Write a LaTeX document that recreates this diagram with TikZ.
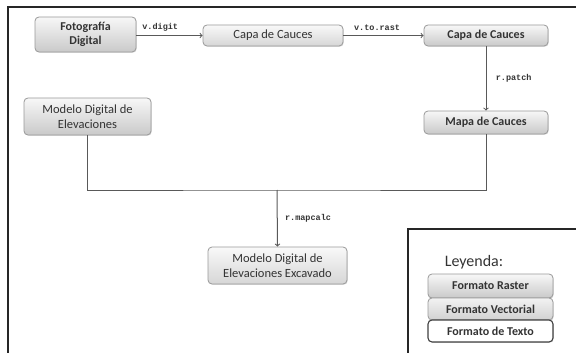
\documentclass[tikz,border=0pt]{standalone}
\usepackage{fontspec}
\setmainfont{Carlito}
\setmonofont{Liberation Mono}
\usetikzlibrary{arrows,shadows}

\tikzset{
    caja/.style={rounded corners=4pt, draw=gray!80, line width=0.8pt, align=center, text=black!80,
        font=\fontsize{12.5}{15}\selectfont, inner sep=1pt,
        drop shadow={opacity=0.25, shadow xshift=0.8pt, shadow yshift=-0.8pt}},
    raster/.style={caja, top color=gray!6, bottom color=gray!42},
    vectorial/.style={caja, top color=gray!5, bottom color=gray!32},
    texto/.style={caja, fill=white, draw=black!75, line width=1.1pt, drop shadow={opacity=0}},
    negrita/.style={font=\bfseries\fontsize{12}{14.5}\selectfont},
    etiq/.style={font=\ttfamily\bfseries\fontsize{8.5}{9}\selectfont, text=black!80},
    flecha/.style={->, >=to, draw=black!65, line width=1pt}
}

\begin{document}
\begin{tikzpicture}[x=1pt, y=-1pt]
        \useasboundingbox (0,0) rectangle (576,353);
        \clip (0,0) rectangle (576,353);
        % marco
        \draw[black!85, line width=1.2pt] (8,7) rectangle (620,400);
        \draw[black!85, line width=1.2pt] (408,229) rectangle (620,400);

        \node[raster, negrita, minimum width=101pt, minimum height=35pt] (foto) at (85.5,34.5) {Fotografía\\Digital};
        \node[vectorial, minimum width=140pt, minimum height=21pt] (capa1) at (273,35.5) {Capa de Cauces};
        \node[raster, negrita, minimum width=124pt, minimum height=21pt] (capa2) at (486,35.5) {Capa de Cauces};
        \node[raster, minimum width=127pt, minimum height=37pt] (mde) at (87.5,116.5) {Modelo Digital de\\Elevaciones};
        \node[raster, negrita, minimum width=124pt, minimum height=23pt] (mapa) at (486,122.5) {Mapa de Cauces};
        \node[vectorial, minimum width=139pt, minimum height=37pt] (exc) at (277.5,265.5) {Modelo Digital de\\Elevaciones Excavado};
        \coordinate (junta) at (277,190);

        \draw[flecha] (foto.east |- capa1) -- (capa1.west) node[etiq, pos=0.36, above=0pt] {v.digit};
        \draw[flecha] (capa1.east) -- (capa2.west) node[etiq, pos=0.42, above=1pt] {v.to.rast};
        \draw[flecha] (capa2.south) -- (mapa.north) node[etiq, midway, right=6pt] {r.patch};
        \draw[black!65, line width=1pt] (mde.south) |- (junta) -| (mapa.south);
        \draw[flecha] (junta) -- (exc.north) node[etiq, midway, right=4pt] {r.mapcalc};

        % leyenda
        \node[text=black!80, font=\fontsize{16}{18}\selectfont] (ley) at (474,262) {Leyenda:};
        \node[raster, negrita, minimum width=125pt, minimum height=24pt] (lras) at (490.5,286) {Formato Raster};
        \node[vectorial, negrita, top color=gray!10, bottom color=gray!36, minimum width=125pt, minimum height=22pt] (lvec) at (490.5,309) {Formato Vectorial};
        \node[texto, negrita, minimum width=125pt, minimum height=22pt] (ltex) at (490.5,331) {Formato de Texto};
    \end{tikzpicture}
\end{document}
